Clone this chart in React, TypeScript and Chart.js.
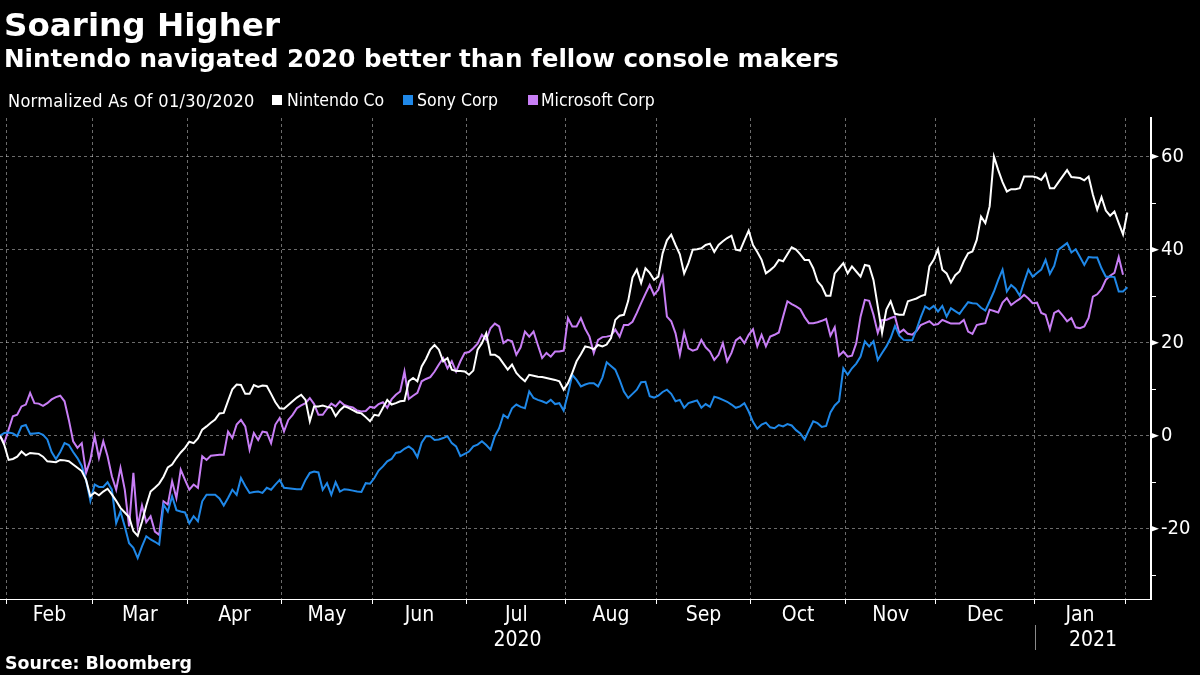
import React, { useEffect, useRef } from 'react';
import { Chart, registerables } from 'chart.js';

Chart.register(...registerables);

// ---------- data ----------
const startDate = '2020-01-30'; // first weekday of the series (normalization date)
const monthLabels = ['Feb', 'Mar', 'Apr', 'May', 'Jun', 'Jul', 'Aug', 'Sep', 'Oct', 'Nov', 'Dec', 'Jan'];
const yearLabels = ['2020', '2021'];
const yTicks = [-20, 0, 20, 40, 60];
const yMinorTicks = [-30, -10, 10, 30, 50];
const seriesNames = ['Nintendo Co', 'Sony Corp', 'Microsoft Corp'];
const legendPrefix = 'Normalized As Of 01/30/2020';

const nintendo = [
  0, -2, -5.2, -5, -4.5, -3.4, -4.2, -3.7, -3.8, -3.9,
  -4.5, -5.5, -5.6, -5.7, -5.2, -5.3, -5.5, -6.2, -6.9, -7.6,
  -9.5, -13, -12.2, -12.8, -12, -11.4, -12.6, -14, -15.5, -16.5,
  -17.5, -20.5, -21.5, -18.5, -15, -12, -11.2, -10.3, -8.8, -6.8,
  -6.2, -4.8, -3.6, -2.6, -1.3, -1.6, -0.6, 1.3, 2, 2.8,
  3.5, 4.8, 4.9, 7.5, 10, 11, 10.9, 9, 9, 10.9,
  10.5, 10.8, 10.7, 9, 7.2, 5.9, 5.8, 6.6, 7.4, 8.2,
  8.8, 7.7, 3.1, 6.3, 6.3, 6.5, 6.2, 6, 4.2, 5.5,
  6.3, 6, 5.5, 5, 4.8, 4, 3.1, 4.5, 4.3, 6,
  7.7, 6.7, 7, 7.4, 7.5, 11.7, 12.4, 11.7, 14.9, 16.5,
  18.5, 19.5, 18.5, 16, 16.7, 14.2, 13.9, 13.9, 13.8, 13.1,
  14, 18.5, 19.9, 22, 17.4, 17.4, 16.8, 15.5, 14.2, 15.3,
  13.5, 12.5, 11.7, 13.1, 12.9, 12.7, 12.6, 12.4, 12.2, 12,
  11.7, 9.9, 11.3, 13.5, 16, 17.5, 19.2, 19, 18.6, 19.5,
  19.2, 19.6, 21, 24.9, 25.8, 26, 29, 34, 35.7, 32.8,
  36, 35, 33.5, 34.2, 39.2, 42, 43.2, 41, 39, 34.9,
  37.1, 40, 40.1, 40.3, 41, 41.3, 39.5, 41, 41.8, 42.5,
  43, 40, 39.8, 42, 44.1, 41, 39.5, 37.8, 34.9, 35.6,
  36.4, 37.8, 37.5, 39, 40.5, 40, 39, 37.8, 37.8, 36,
  33.2, 32.1, 30.1, 30.1, 34.9, 36, 37.1, 34.9, 36.4, 35.3,
  34.2, 36.7, 36.5, 33.5, 27.8, 22.1, 27.1, 28.9, 26.2, 26,
  26, 28.9, 29.2, 29.5, 30, 30.3, 36.4, 37.8, 40.1, 35.7,
  34.9, 32.9, 34.5, 35.3, 37.5, 39.2, 39.6, 42.1, 47.1, 45.7,
  49.3, 60, 57.1, 54.5, 52.5, 53, 53, 53.2, 55.7, 55.7,
  55.7, 55.5, 55, 56.3, 53.2, 53.2, 54.5, 55.8, 57.1, 55.6,
  55.5, 55.4, 54.9, 55.7, 51.8, 48.6, 51.3, 48.4, 47.3, 48.2,
  45.7, 43.3, 48,
];

const sony = [
  0, 0.6, 0.7, 0.5, -0.1, 2, 2.3, 0.4, 0.5, 0.6,
  0.2, -0.8, -3.5, -5, -3.5, -1.6, -2, -3.5, -4.8, -6.5,
  -9.5, -14, -10.5, -11, -11, -10, -11.6, -18.8, -16.3, -19.5,
  -23.1, -24.1, -26.3, -23.8, -21.6, -22.3, -22.8, -23.4, -14.8, -16.3,
  -13, -16, -16.3, -16.5, -18.8, -17.3, -18.4, -14.1, -12.7, -12.7,
  -12.7, -13.5, -15, -13.4, -11.6, -12.7, -9.1, -10.8, -12.3, -12.1,
  -12, -12.3, -11.2, -11.6, -10.5, -9.5, -11.2, -11.3, -11.4, -11.5,
  -11.5, -9.5, -8, -7.7, -7.9, -11.6, -10.2, -12.7, -10, -12,
  -11.5, -11.6, -11.8, -12, -12.1, -10.2, -10.3, -9.1, -7.5, -6.6,
  -5.5, -5, -3.7, -3.5, -2.8, -2.3, -3, -4.6, -1.5, -0.1,
  -0.1, -0.9, -0.8, -0.5, -0.1, -1.6, -2.3, -4.4, -3.9, -3.4,
  -2.3, -1.9, -1.2, -2, -3, -0.1, 1.6, 4.5, 3.8, 5.9,
  6.7, 6.2, 5.9, 9.5, 8.1, 7.7, 7.4, 7, 7.7, 6.8,
  7, 5.4, 9, 13.1, 12, 10.6, 11, 11.3, 11.3, 10.6,
  12.5, 15.8, 15, 14.2, 12, 9.5, 8.1, 9, 9.9, 11.5,
  11.6, 8.5, 8.2, 8.6, 9.4, 9.9, 9, 7.4, 7.7, 6,
  7, 7.3, 7.6, 6, 6.8, 6.2, 8.4, 8.1, 7.7, 7.3,
  6.7, 6, 6.3, 7, 5.2, 3, 1.5, 2.4, 2.8, 1.8,
  1.6, 2.3, 2, 2.5, 2.2, 1.2, 0.5, -0.8, 1.2, 3.1,
  2.7, 1.9, 2.1, 5, 6.5, 7.4, 14.5, 13.1, 14.5, 15.5,
  17, 20.3, 19.2, 20.3, 16.3, 17.8, 19.2, 21, 23.6, 21.5,
  20.6, 20.5, 20.5, 22.8, 25.5, 27.8, 27.2, 27.9, 26.7, 27.9,
  25.6, 27.4, 26.8, 26.2, 27.5, 28.7, 28.5, 28.4, 27.5, 26.9,
  28.9, 31, 33.5, 35.7, 31, 32.4, 31.6, 30.1, 33, 35.7,
  34.2, 35, 35.7, 37.8, 34.8, 36.5, 40, 40.7, 41.4, 39.4,
  40.1, 38.4, 36.7, 38.4, 38.3, 38.3, 36, 34.2, 34.2, 34.1,
  31, 31, 31.9,
];

const microsoft = [
  0, -1.6, 1.3, 4.2, 4.5, 6.3, 6.7, 9.2, 7, 6.9,
  6.4, 7, 7.8, 8.3, 8.6, 7.4, 3.4, -1.2, -2.6, -1.6,
  -8, -5.2, -0.1, -4.8, -1.2, -4.4, -8.7, -11.6, -6.9, -11.6,
  -19.5, -8, -19.5, -15, -18.6, -17.3, -20.6, -21.3, -14.1, -14.8,
  -9.8, -13.4, -7.3, -9.5, -11.6, -10.5, -11.2, -4.4, -5.2, -4.3,
  -4.2, -4.1, -4.1, 0.9, -0.5, 2.4, 3.4, 2, -3, 0.6,
  -0.9, 0.9, 0.7, -1.6, 2.4, 3.8, 0.9, 3.4, 4.5, 5.9,
  6.5, 7, 8.1, 6.8, 4.5, 4.5, 5.8, 6.9, 6.3, 7.4,
  6.6, 6.3, 6.1, 5.4, 5.2, 5.3, 6.2, 6, 6.8, 7.2,
  6, 7.8, 8.8, 9.5, 13.8, 7.9, 8.6, 9.2, 11.7, 12.2,
  12.6, 13.8, 15.3, 16.7, 14.5, 16, 13.8, 16, 17.8, 18,
  18.8, 19.8, 21.7, 20.6, 23.1, 24.1, 23.5, 19.9, 20.6, 20.3,
  17.4, 19, 22.4, 21.3, 22.4, 19.5, 16.7, 17.8, 17, 18.1,
  18.1, 18.3, 25.3, 23.5, 23.5, 25.3, 23, 21.3, 17.8, 20.6,
  21.2, 21.3, 21.5, 22.8, 21.3, 23.8, 23.8, 24.5, 26.4, 28.5,
  30.5, 32.4, 30.3, 31.4, 34.1, 25.6, 24.6, 22, 17.4, 22.2,
  18.8, 18.3, 18.6, 20.6, 19, 18.1, 16.3, 17.4, 19.9, 16,
  17.8, 20.5, 21.2, 19.9, 21.7, 22.9, 19.2, 21.7, 19.2, 21.3,
  21.7, 22.2, 25.6, 28.9, 28.3, 27.8, 27.2, 25.5, 24.2, 24.2,
  24.4, 24.7, 25.1, 21.5, 23.3, 17.2, 18.1, 17, 17.2, 19.9,
  25.6, 29.2, 29, 26, 22.1, 24.9, 24.9, 25.3, 25.6, 22.1,
  22.8, 21.9, 21.7, 22.5, 23.8, 24.2, 24.6, 23.8, 24, 24.9,
  24.5, 24.1, 24.1, 24.1, 24.9, 22.4, 21.9, 23.8, 24, 24.2,
  27.1, 26.8, 26.5, 28.6, 29.6, 28.1, 28.8, 29.4, 30.3, 29.5,
  28.5, 28.6, 26.4, 26, 22.9, 26.4, 26.9, 25.8, 24.6, 25.3,
  23.3, 23.1, 23.5, 25.3, 29.9, 30.4, 31.5, 33.5, 34.4, 35,
  38.4, 34.6, null,
];

// ---------- styling ----------
const COLORS = ['#ffffff', '#1f88e8', '#c87ef5'];
const GRID = 'rgba(255,255,255,0.42)';
const COND = '"DejaVu Sans Condensed", "DejaVu Sans", sans-serif';
const BOLD = '"DejaVu Sans", sans-serif';

// weekday calendar for the x axis (one slot per weekday)
function weekdayDates(start: string, count: number): Date[] {
  const out: Date[] = [];
  const d = new Date(start + 'T00:00:00Z');
  while (out.length < count) {
    const wd = d.getUTCDay();
    if (wd !== 0 && wd !== 6) out.push(new Date(d.getTime()));
    d.setUTCDate(d.getUTCDate() + 1);
  }
  return out;
}

const dates = weekdayDates(startDate, nintendo.length);
const monthBoundaries: number[] = [];
let yearBoundary = 0;
for (let i = 1; i < dates.length; i++) {
  if (dates[i].getUTCMonth() !== dates[i - 1].getUTCMonth()) monthBoundaries.push(i - 0.5);
  if (dates[i].getUTCFullYear() !== dates[i - 1].getUTCFullYear()) yearBoundary = i - 0.5;
}

const axisDecor = {
  id: 'axisDecor',
  afterDraw(chart: any) {
    const { ctx, chartArea } = chart;
    const xs = chart.scales.x;
    const ys = chart.scales.y;
    ctx.save();
    // minor ticks on right axis
    ctx.strokeStyle = '#ffffff';
    ctx.lineWidth = 1;
    yMinorTicks.forEach((v) => {
      const py = Math.round(ys.getPixelForValue(v)) + 0.5;
      ctx.beginPath();
      ctx.moveTo(chartArea.right, py);
      ctx.lineTo(chartArea.right + 5, py);
      ctx.stroke();
    });
    // major tick markers
    ctx.fillStyle = '#ffffff';
    yTicks.forEach((v) => {
      const py = ys.getPixelForValue(v);
      ctx.beginPath();
      ctx.moveTo(chartArea.right, py - 3);
      ctx.lineTo(chartArea.right + 8, py);
      ctx.lineTo(chartArea.right, py + 3);
      ctx.closePath();
      ctx.fill();
    });
    // month labels centred between boundaries
    ctx.font = `21px ${COND}`;
    ctx.textAlign = 'center';
    ctx.textBaseline = 'alphabetic';
    monthLabels.forEach((m, k) => {
      const c = (monthBoundaries[k] + monthBoundaries[k + 1]) / 2;
      ctx.fillText(m, xs.getPixelForValue(c), chartArea.bottom + 22);
    });
    // year labels
    const yb = xs.getPixelForValue(yearBoundary);
    ctx.fillText(yearLabels[0], (chartArea.left + yb) / 2, chartArea.bottom + 47);
    ctx.fillText(yearLabels[1], (yb + chartArea.right) / 2, chartArea.bottom + 47);
    ctx.strokeStyle = '#8a8a8a';
    ctx.beginPath();
    ctx.moveTo(Math.round(yb) + 0.5, chartArea.bottom + 26);
    ctx.lineTo(Math.round(yb) + 0.5, chartArea.bottom + 51);
    ctx.stroke();
    ctx.restore();
  },
};

export default function App() {
  const ref = useRef<HTMLCanvasElement | null>(null);

  useEffect(() => {
    if (!ref.current) return;
    const series = [nintendo, sony, microsoft];
    const chart = new Chart(ref.current, {
      type: 'line',
      data: {
        datasets: series.map((s, si) => ({
          label: seriesNames[si],
          data: s.map((y, x) => ({ x, y })),
          borderColor: COLORS[si],
          backgroundColor: COLORS[si],
          borderWidth: 2,
          pointRadius: 0,
          tension: 0,
          fill: false,
          spanGaps: false,
        })),
      },
      options: {
        responsive: false,
        animation: false,
        devicePixelRatio: 1,
        layout: { padding: { top: 118, left: 0, right: 0, bottom: 0 } },
        plugins: {
          legend: { display: false },
          title: { display: false },
          tooltip: { enabled: false },
        },
        scales: {
          x: {
            type: 'linear',
            position: 'bottom',
            min: 0,
            max: 267.5,
            afterBuildTicks: (s: any) => {
              s.ticks = monthBoundaries.map((v) => ({ value: v }));
            },
            afterFit: (s: any) => {
              s.height = 76;
            },
            grid: {
              display: true,
              drawOnChartArea: true,
              drawTicks: true,
              tickLength: 5,
              color: GRID,
              tickColor: '#ffffff',
              lineWidth: 1,
            },
            border: { display: true, color: '#ffffff', width: 1, dash: [3, 3] },
            ticks: { display: false },
          },
          y: {
            type: 'linear',
            position: 'right',
            min: -35.1,
            max: 68.3,
            afterBuildTicks: (s: any) => {
              s.ticks = yTicks.map((v) => ({ value: v }));
            },
            afterFit: (s: any) => {
              s.width = 49;
            },
            grid: { color: GRID, drawTicks: false, lineWidth: 1 },
            border: { display: true, color: '#ffffff', width: 2, dash: [3, 3] },
            ticks: {
              color: '#ffffff',
              padding: 10,
              font: { family: COND, size: 20 },
              callback: (v: any) => String(v),
            },
          },
        },
      },
      plugins: [axisDecor],
    });
    return () => chart.destroy();
  }, []);

  const text = (extra: React.CSSProperties): React.CSSProperties => ({
    position: 'absolute',
    color: '#ffffff',
    whiteSpace: 'nowrap',
    ...extra,
  });

  const legendX = [
    { sq: 272, tx: 287 },
    { sq: 403, tx: 417 },
    { sq: 528, tx: 541 },
  ];

  return (
    <div style={{ position: 'fixed', left: 0, top: 0, width: 1200, height: 675, background: '#000', overflow: 'hidden' }}>
      <canvas ref={ref} width={1200} height={675} style={{ position: 'absolute', left: 0, top: 0, width: 1200, height: 675 }} />
      <div style={text({ left: 4, top: 9, font: `bold 32.6px ${BOLD}`, lineHeight: '33px' })}>Soaring Higher</div>
      <div style={text({ left: 4, top: 47, font: `bold 24.6px ${BOLD}`, lineHeight: '24.6px' })}>
        Nintendo navigated 2020 better than fellow console makers
      </div>
      <div style={text({ left: 8, top: 91.5, font: `18px ${COND}`, lineHeight: '18px', letterSpacing: '0.3px' })}>{legendPrefix}</div>
      {seriesNames.map((n, i) => (
        <React.Fragment key={n}>
          <div style={{ position: 'absolute', left: legendX[i].sq, top: 95, width: 10, height: 10, background: COLORS[i] }} />
          <div style={text({ left: legendX[i].tx, top: 92, font: `17.5px ${COND}`, lineHeight: '17.5px' })}>{n}</div>
        </React.Fragment>
      ))}
      <div style={text({ left: 5, top: 655, font: `bold 17.4px ${BOLD}`, lineHeight: '17.4px' })}>Source: Bloomberg</div>
    </div>
  );
}
